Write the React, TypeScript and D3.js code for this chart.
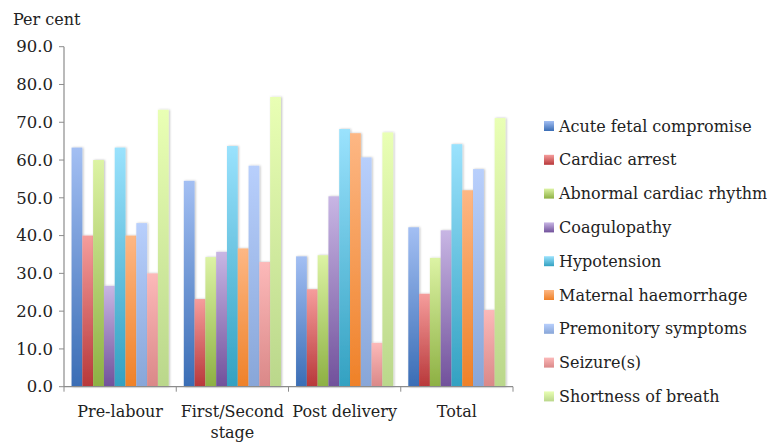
import React from "react";
import * as d3 from "d3";

const categories = ["Pre-labour", "First/Second stage", "Post delivery", "Total"];
const seriesNames = [
  "Acute fetal compromise",
  "Cardiac arrest",
  "Abnormal cardiac rhythm",
  "Coagulopathy",
  "Hypotension",
  "Maternal haemorrhage",
  "Premonitory symptoms",
  "Seizure(s)",
  "Shortness of breath",
];
const acuteFetal = [63.3, 54.5, 34.5, 42.2];
const cardiacArrest = [40.0, 23.2, 25.8, 24.6];
const abnormalRhythm = [60.0, 34.3, 34.8, 34.1];
const coagulopathy = [26.7, 35.7, 50.4, 41.4];
const hypotension = [63.3, 63.7, 68.2, 64.2];
const haemorrhage = [40.0, 36.6, 67.1, 52.0];
const premonitory = [43.3, 58.5, 60.7, 57.6];
const seizures = [30.0, 33.0, 11.6, 20.3];
const breath = [73.3, 76.7, 67.3, 71.1];
const seriesValues = [acuteFetal, cardiacArrest, abnormalRhythm, coagulopathy, hypotension, haemorrhage, premonitory, seizures, breath];
const yTicks = [0, 10, 20, 30, 40, 50, 60, 70, 80, 90];
const colorsTop = ["#a3bff3", "#f59d9c", "#dcf3a4", "#c8b6e4", "#9ae2fd", "#fdb784", "#b8cffc", "#fcb9b9", "#e9ffb4"];
const colorsBottom = ["#3a6db5", "#b8383a", "#8db043", "#71519b", "#33a1c1", "#ef8128", "#88a6d8", "#da8888", "#bad78b"];

const W = 773, H = 442;
const x0 = 64, x1 = 513, yTop = 46.7, yBottom = 386.7;
const font = "DejaVu Serif";

export default function App() {
  const x = d3.scaleBand<string>().domain(categories).range([x0, x1]).paddingInner(0).paddingOuter(0);
  const xs = d3.scaleBand<number>().domain(d3.range(seriesNames.length)).range([0, x.bandwidth()]).paddingOuter(0.7).paddingInner(0);
  const y = d3.scaleLinear().domain([0, 90]).range([yBottom, yTop]);
  const legendX = 544, legendY0 = 126, legendStep = 33.8;
  return (
    <svg width={W} height={H} style={{ position: "absolute", left: 0, top: 0, background: "#fff" }} fontFamily={font}>
      <defs>
        {seriesNames.map((_, i) => (
          <linearGradient key={i} id={`g${i}`} x1="0" y1="0" x2="0" y2="1">
            <stop offset="0" stopColor={colorsTop[i]} />
            <stop offset="1" stopColor={colorsBottom[i]} />
          </linearGradient>
        ))}
        <filter id="sh" x="-20%" y="-5%" width="150%" height="110%">
          <feDropShadow dx="1" dy="0" stdDeviation="0.8" floodColor="#000" floodOpacity="0.25" />
        </filter>
      </defs>
      <text x={13} y={25} fontSize={16} fill="#222">Per cent</text>
      {yTicks.map((t) => (
        <g key={t}>
          <line x1={x0 - 5} x2={x0} y1={y(t)} y2={y(t)} stroke="#8c8c8c" strokeWidth={1} />
          <text x={53} y={y(t)} dy="0.35em" textAnchor="end" fontSize={16.5} fill="#222">{t.toFixed(1)}</text>
        </g>
      ))}
      {categories.map((c, ci) => (
        <g key={c} transform={`translate(${x(c)},0)`}>
          {seriesValues.map((vals, si) => (
            <rect key={si} x={xs(si)} width={xs.bandwidth()} y={y(vals[ci])} height={y(0) - y(vals[ci])} fill={`url(#g${si})`} filter="url(#sh)" />
          ))}
        </g>
      ))}
      <line x1={x0} x2={x0} y1={yTop} y2={yBottom} stroke="#8c8c8c" strokeWidth={1.2} />
      <line x1={x0} x2={x1} y1={yBottom} y2={yBottom} stroke="#8c8c8c" strokeWidth={1.2} />
      {[...categories.map((c) => x(c) as number), x1].map((t, i) => (
        <line key={i} x1={t} x2={t} y1={yBottom} y2={yBottom + 5} stroke="#8c8c8c" strokeWidth={1} />
      ))}
      {categories.map((c) => {
        const cx = (x(c) as number) + x.bandwidth() / 2;
        const lines = c === "First/Second stage" ? ["First/Second", "stage"] : [c];
        return (
          <text key={c} x={cx} y={417} textAnchor="middle" fontSize={16} fill="#222">
            {lines.map((l, i) => (
              <tspan key={i} x={cx} dy={i === 0 ? 0 : 21}>{l}</tspan>
            ))}
          </text>
        );
      })}
      {seriesNames.map((n, i) => (
        <g key={n} transform={`translate(${legendX},${legendY0 + i * legendStep})`}>
          <rect x={0} y={-5} width={10} height={10} fill={`url(#g${i})`} />
          <text x={15} y={0} dy="0.35em" fontSize={16} fill="#222">{n}</text>
        </g>
      ))}
    </svg>
  );
}
